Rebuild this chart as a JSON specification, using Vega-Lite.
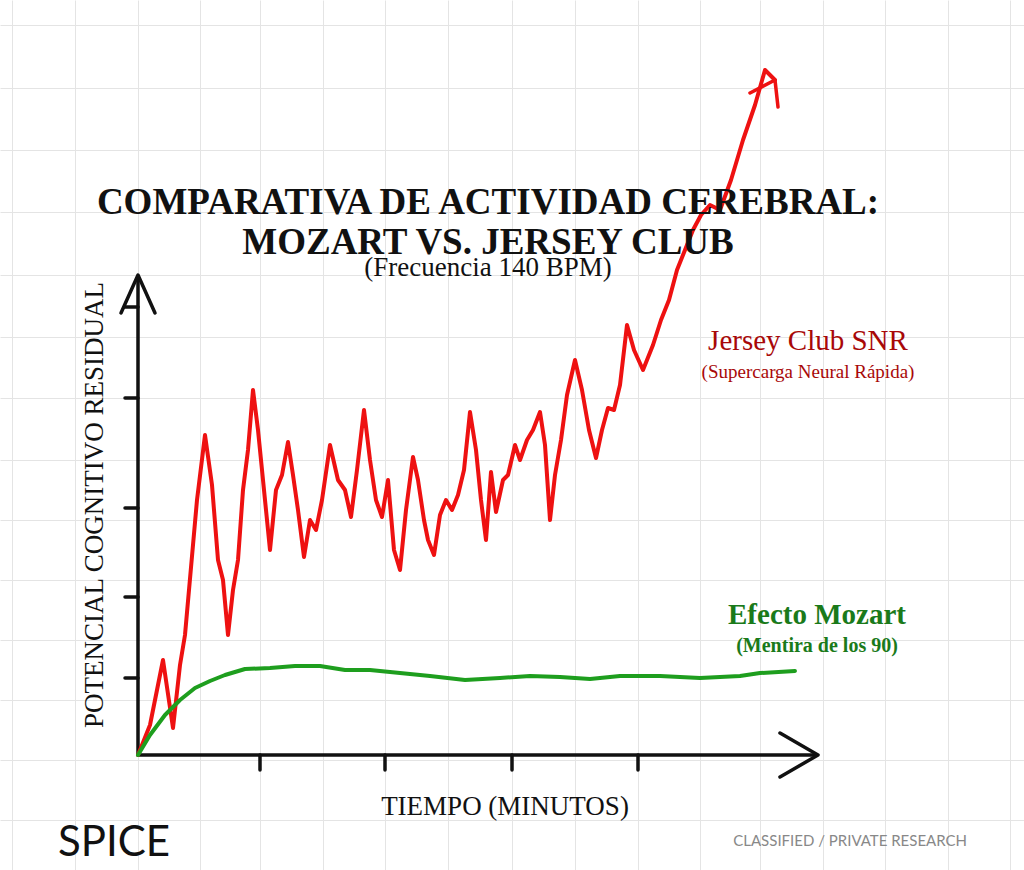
{
  "$schema": "https://vega.github.io/schema/vega-lite/v6.json",
  "width": 1024,
  "height": 870,
  "autosize": {"type": "fit", "contains": "padding"},
  "padding": 0,
  "background": "#ffffff",
  "view": {"stroke": null},
  "config": {"font": "Liberation Sans Narrow"},
  "datasets": {
    "one": [{}],
    "lines": [
      {"s":"red","i":0,"x":0,"y":0},{"s":"red","i":1,"x":1.2,"y":3},{"s":"red","i":2,"x":2.5,"y":9.5},{"s":"red","i":3,"x":3.5,"y":2.7},{"s":"red","i":4,"x":4.2,"y":9},{"s":"red","i":5,"x":4.7,"y":12},{"s":"red","i":6,"x":5.9,"y":25.5},{"s":"red","i":7,"x":6.7,"y":32},{"s":"red","i":8,"x":7.4,"y":27},{"s":"red","i":9,"x":8,"y":19.5},{"s":"red","i":10,"x":8.5,"y":17.5},{"s":"red","i":11,"x":9,"y":12},{"s":"red","i":12,"x":9.5,"y":16.5},{"s":"red","i":13,"x":10,"y":19.5},{"s":"red","i":14,"x":10.5,"y":26.5},{"s":"red","i":15,"x":11,"y":30.5},{"s":"red","i":16,"x":11.5,"y":36.5},{"s":"red","i":17,"x":12,"y":32.5},{"s":"red","i":18,"x":12.6,"y":26.5},{"s":"red","i":19,"x":13.2,"y":20.5},{"s":"red","i":20,"x":13.8,"y":26.5},{"s":"red","i":21,"x":14.4,"y":28},{"s":"red","i":22,"x":15,"y":31.3},{"s":"red","i":23,"x":15.5,"y":28},{"s":"red","i":24,"x":16,"y":24.5},{"s":"red","i":25,"x":16.6,"y":19.8},{"s":"red","i":26,"x":17.2,"y":23.5},{"s":"red","i":27,"x":17.8,"y":22.5},{"s":"red","i":28,"x":18.4,"y":25.5},{"s":"red","i":29,"x":19.2,"y":31},{"s":"red","i":30,"x":20,"y":27.5},{"s":"red","i":31,"x":20.7,"y":26.5},{"s":"red","i":32,"x":21.3,"y":23.8},{"s":"red","i":33,"x":21.9,"y":28.5},{"s":"red","i":34,"x":22.6,"y":34.5},{"s":"red","i":35,"x":23.2,"y":29.5},{"s":"red","i":36,"x":23.8,"y":25.5},{"s":"red","i":37,"x":24.4,"y":23.8},{"s":"red","i":38,"x":25,"y":27.5},{"s":"red","i":39,"x":25.6,"y":20.5},{"s":"red","i":40,"x":26.2,"y":18.5},{"s":"red","i":41,"x":26.8,"y":24.5},{"s":"red","i":42,"x":27.5,"y":29.8},{"s":"red","i":43,"x":28,"y":27.5},{"s":"red","i":44,"x":28.6,"y":23.5},{"s":"red","i":45,"x":29,"y":21.5},{"s":"red","i":46,"x":29.6,"y":20},{"s":"red","i":47,"x":30.2,"y":24},{"s":"red","i":48,"x":30.8,"y":25.5},{"s":"red","i":49,"x":31.4,"y":24.5},{"s":"red","i":50,"x":32,"y":26},{"s":"red","i":51,"x":32.6,"y":28.5},{"s":"red","i":52,"x":33.2,"y":34.3},{"s":"red","i":53,"x":33.8,"y":30.5},{"s":"red","i":54,"x":34.3,"y":25.5},{"s":"red","i":55,"x":34.8,"y":21.5},{"s":"red","i":56,"x":35.3,"y":28.3},{"s":"red","i":57,"x":35.8,"y":24.3},{"s":"red","i":58,"x":36.5,"y":27.5},{"s":"red","i":59,"x":37,"y":28},{"s":"red","i":60,"x":37.7,"y":31},{"s":"red","i":61,"x":38.2,"y":29.5},{"s":"red","i":62,"x":38.9,"y":31.5},{"s":"red","i":63,"x":39.5,"y":32.5},{"s":"red","i":64,"x":40.2,"y":34.3},{"s":"red","i":65,"x":40.7,"y":31},{"s":"red","i":66,"x":41.2,"y":23.5},{"s":"red","i":67,"x":41.7,"y":28},{"s":"red","i":68,"x":42.3,"y":31.5},{"s":"red","i":69,"x":42.9,"y":36},{"s":"red","i":70,"x":43.7,"y":39.5},{"s":"red","i":71,"x":44.4,"y":36.5},{"s":"red","i":72,"x":45.1,"y":32.5},{"s":"red","i":73,"x":45.8,"y":29.7},{"s":"red","i":74,"x":46.4,"y":32.5},{"s":"red","i":75,"x":47,"y":34.7},{"s":"red","i":76,"x":47.6,"y":34.5},{"s":"red","i":77,"x":48.2,"y":37},{"s":"red","i":78,"x":48.9,"y":43},{"s":"red","i":79,"x":49.6,"y":40.5},{"s":"red","i":80,"x":50.5,"y":38.5},{"s":"red","i":81,"x":51.5,"y":41},{"s":"red","i":82,"x":52.3,"y":43.5},{"s":"red","i":83,"x":53.1,"y":45.5},{"s":"red","i":84,"x":53.9,"y":48.5},{"s":"red","i":85,"x":54.7,"y":50.5},{"s":"red","i":86,"x":55.5,"y":52.5},{"s":"red","i":87,"x":56.3,"y":54},{"s":"red","i":88,"x":57.2,"y":55},{"s":"red","i":89,"x":58.2,"y":54.5},{"s":"red","i":90,"x":59.3,"y":57.5},{"s":"red","i":91,"x":60.5,"y":61.5},{"s":"red","i":92,"x":61.7,"y":65},{"s":"red","i":93,"x":62.7,"y":68.5},{"s":"red","i":94,"x":63.7,"y":67.5},
      {"s":"green","i":0,"x":0,"y":0},{"s":"green","i":1,"x":1.2,"y":2},{"s":"green","i":2,"x":2.7,"y":4},{"s":"green","i":3,"x":4.2,"y":5.5},{"s":"green","i":4,"x":5.7,"y":6.7},{"s":"green","i":5,"x":7.2,"y":7.4},{"s":"green","i":6,"x":8.7,"y":8},{"s":"green","i":7,"x":10.7,"y":8.6},{"s":"green","i":8,"x":13.2,"y":8.7},{"s":"green","i":9,"x":15.7,"y":8.9},{"s":"green","i":10,"x":18.2,"y":8.9},{"s":"green","i":11,"x":20.7,"y":8.5},{"s":"green","i":12,"x":23.2,"y":8.5},{"s":"green","i":13,"x":26.2,"y":8.2},{"s":"green","i":14,"x":29.2,"y":7.9},{"s":"green","i":15,"x":32.7,"y":7.5},{"s":"green","i":16,"x":36.2,"y":7.7},{"s":"green","i":17,"x":39.2,"y":7.9},{"s":"green","i":18,"x":42.2,"y":7.8},{"s":"green","i":19,"x":45.2,"y":7.6},{"s":"green","i":20,"x":48.2,"y":7.9},{"s":"green","i":21,"x":52.2,"y":7.9},{"s":"green","i":22,"x":56.2,"y":7.7},{"s":"green","i":23,"x":60.2,"y":7.9},{"s":"green","i":24,"x":62.2,"y":8.2},{"s":"green","i":25,"x":65.7,"y":8.4}
    ],
    "arrows": [
      {"a":"x","i":0,"x":64.2,"y":2.2},{"a":"x","i":1,"x":68,"y":0},{"a":"x","i":2,"x":64.2,"y":-2.2},
      {"a":"y","i":0,"x":-1.7,"y":44.2},{"a":"y","i":1,"x":0,"y":48},{"a":"y","i":2,"x":1.7,"y":44.2},
      {"a":"r","i":0,"x":61.2,"y":66.2},{"a":"r","i":1,"x":63.7,"y":67.5},{"a":"r","i":2,"x":64,"y":64.8}
    ],
    "ticks": [
      {"x":12.2,"y":0,"x2":12.2,"y2":-1.5},{"x":24.7,"y":0,"x2":24.7,"y2":-1.5},{"x":37.4,"y":0,"x2":37.4,"y2":-1.5},{"x":50,"y":0,"x2":50,"y2":-1.5},
      {"x":-1.3,"y":44.8,"x2":0,"y2":44.8},{"x":-1.3,"y":35.7,"x2":0,"y2":35.7},{"x":-1.3,"y":24.7,"x2":0,"y2":24.7},{"x":-1.3,"y":15.8,"x2":0,"y2":15.8},{"x":-1.3,"y":7.7,"x2":0,"y2":7.7},
      {"x":0,"y":0,"x2":67.7,"y2":0},{"x":0,"y":0,"x2":0,"y2":47.7}
    ]
  },
  "layer": [
    {
      "data": {"name": "ticks"},
      "mark": {"type": "rule", "color": "#111111", "strokeWidth": 3.5, "strokeCap": "round"},
      "encoding": {
        "x": {"field": "x", "type": "quantitative", "scale": {"domain": [-13.8, 88.6], "nice": false, "zero": false},
          "axis": {"values": [-12.6,-6.3,0,6.2,12.2,18.5,24.7,31,37.4,43.7,50,56.2,62.2,68.5,74.7,81,87.2], "grid": true, "gridColor": "#e4e4e4", "labels": false, "ticks": false, "domain": false, "title": null}},
        "y": {"field": "y", "type": "quantitative", "scale": {"domain": [-11.5, 75.5], "nice": false, "zero": false},
          "axis": {"values": [73,66.7,60.5,54.3,48,41.8,35.7,29.5,23.5,17.5,11.5,5.5,-0.5,-6.5], "grid": true, "gridColor": "#e4e4e4", "labels": false, "ticks": false, "domain": false, "title": null}},
        "x2": {"field": "x2"},
        "y2": {"field": "y2"}
      }
    },
    {
      "data": {"name": "arrows"},
      "mark": {"type": "line", "strokeWidth": 3.5, "strokeCap": "round", "strokeJoin": "round"},
      "encoding": {
        "x": {"field": "x", "type": "quantitative"},
        "y": {"field": "y", "type": "quantitative"},
        "detail": {"field": "a"},
        "order": {"field": "i"},
        "color": {"field": "a", "type": "nominal", "scale": {"domain": ["x","y","r","red","green"], "range": ["#111111","#111111","#ee1111","#ee1111","#1e9e1e"]}, "legend": null}
      }
    },
    {
      "data": {"name": "lines"},
      "mark": {"type": "line", "strokeWidth": 4, "strokeCap": "round", "strokeJoin": "round"},
      "encoding": {
        "x": {"field": "x", "type": "quantitative"},
        "y": {"field": "y", "type": "quantitative"},
        "detail": {"field": "s"},
        "order": {"field": "i"},
        "color": {"field": "s", "type": "nominal", "legend": null}
      }
    },
    {
      "data": {"name": "one"},
      "mark": {"type": "text", "fontSize": 37, "fontWeight": "bold", "color": "#111111", "text": ["COMPARATIVA DE ACTIVIDAD CEREBRAL:", "MOZART VS. JERSEY CLUB"], "lineHeight": 40, "baseline": "middle"},
      "encoding": {"x": {"datum": 35}, "y": {"datum": 55.2}}
    },
    {
      "data": {"name": "one"},
      "mark": {"type": "text", "fontSize": 27, "color": "#111111", "text": "(Frecuencia 140 BPM)"},
      "encoding": {"x": {"datum": 35}, "y": {"datum": 48.7}}
    },
    {
      "data": {"name": "one"},
      "mark": {"type": "text", "fontSize": 29, "color": "#a80808", "text": "Jersey Club SNR"},
      "encoding": {"x": {"datum": 67}, "y": {"datum": 41.4}}
    },
    {
      "data": {"name": "one"},
      "mark": {"type": "text", "fontSize": 19, "color": "#a80808", "text": "(Supercarga Neural Rápida)"},
      "encoding": {"x": {"datum": 67}, "y": {"datum": 38.3}}
    },
    {
      "data": {"name": "one"},
      "mark": {"type": "text", "fontSize": 29, "fontWeight": "bold", "color": "#1a7a1a", "text": "Efecto Mozart"},
      "encoding": {"x": {"datum": 67.9}, "y": {"datum": 14}}
    },
    {
      "data": {"name": "one"},
      "mark": {"type": "text", "fontSize": 20, "fontWeight": "bold", "color": "#1a7a1a", "text": "(Mentira de los 90)"},
      "encoding": {"x": {"datum": 67.9}, "y": {"datum": 10.9}}
    },
    {
      "data": {"name": "one"},
      "mark": {"type": "text", "fontSize": 27, "color": "#111111", "text": "TIEMPO (MINUTOS)"},
      "encoding": {"x": {"datum": 36.7}, "y": {"datum": -5.2}}
    },
    {
      "data": {"name": "one"},
      "mark": {"type": "text", "fontSize": 27, "color": "#111111", "angle": 270, "text": "POTENCIAL COGNITIVO RESIDUAL"},
      "encoding": {"x": {"datum": -4.3}, "y": {"datum": 25}}
    },
    {
      "data": {"name": "one"},
      "mark": {"type": "text", "fontSize": 42, "font": "Lato", "color": "#111111", "align": "left", "text": "SPICE"},
      "encoding": {"x": {"datum": -8}, "y": {"datum": -8.8}}
    },
    {
      "data": {"name": "one"},
      "mark": {"type": "text", "fontSize": 15, "font": "Lato", "color": "#888888", "align": "right", "text": "CLASSIFIED / PRIVATE RESEARCH"},
      "encoding": {"x": {"datum": 82.9}, "y": {"datum": -8.6}}
    }
  ]
}
